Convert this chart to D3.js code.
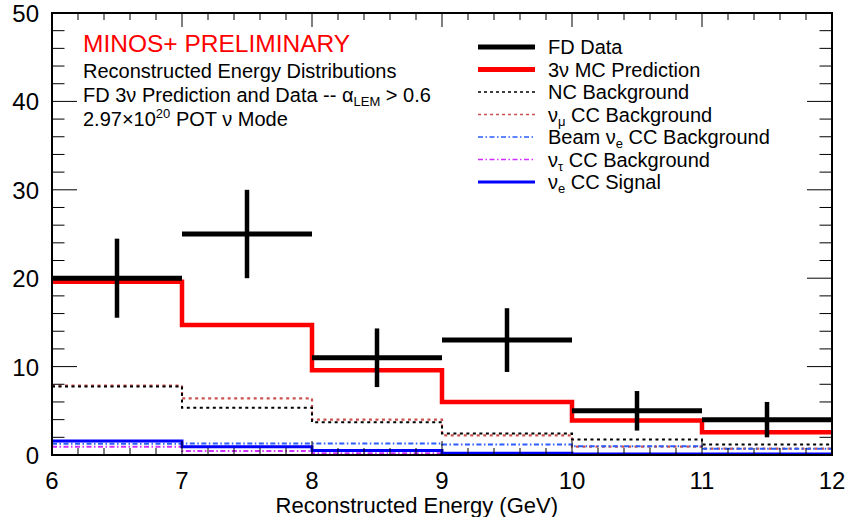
<!DOCTYPE html>
<html>
<head>
<meta charset="utf-8">
<script src="https://cdn.jsdelivr.net/npm/d3@7"></script>
<style>
  body { margin: 0; background: #fff; }
  svg text { font-family: "Liberation Sans", Arial, sans-serif; }
</style>
</head>
<body>
<div id="chart"></div>
<script>
// bin edges (GeV) and per-bin contents
const binEdges = [6, 7, 8, 9, 10, 11, 12];
const fdData = [20, 25, 11, 13, 5, 4];
const mcPrediction = [19.6, 14.7, 9.6, 6.0, 3.9, 2.57];
const ncBackground = [7.75, 5.35, 3.7, 2.42, 1.75, 1.2];
const numuCC = [7.85, 6.4, 4.0, 2.22, 0.95, 0.72];
const beamNueCC = [1.28, 1.3, 1.3, 1.2, 1.0, 0.72];
const nutauCC = [0.92, 0.45, 0.2, 0.1, 0.05, 0.04];
const nueSignal = [1.58, 0.92, 0.5, 0.2, 0.1, 0.12];

const xTicks = [6, 7, 8, 9, 10, 11, 12];
const yTicks = [0, 10, 20, 30, 40, 50];

const width = 846, height = 517;
const margin = {left: 52, right: 14, top: 13, bottom: 62};

const svg = d3.select("#chart").append("svg")
  .attr("width", width)
  .attr("height", height);

const x = d3.scaleLinear().domain([6, 12]).range([margin.left, width - margin.right]);
const y = d3.scaleLinear().domain([0, 50]).range([height - margin.bottom, margin.top]);

// step outline for a histogram
function stepPath(vals) {
  const pts = vals.map((v, i) => [binEdges[i], v]);
  pts.push([binEdges[binEdges.length - 1], vals[vals.length - 1]]);
  return d3.line().x(d => x(d[0])).y(d => y(d[1])).curve(d3.curveStepAfter)(pts);
}

// histograms, background ones first
const hists = [
  {vals: numuCC, color: "#cc5050", w: 2.2, dash: "3,3.5"},
  {vals: ncBackground, color: "#000", w: 2, dash: "3,3.5"},
  {vals: nutauCC, color: "#d030ff", w: 2, dash: "5,2.5,1.5,2.5"},
  {vals: beamNueCC, color: "#2a5cff", w: 2, dash: "5,2.5,1.5,2.5"},
  {vals: nueSignal, color: "#0000ff", w: 3, dash: null},
  {vals: mcPrediction, color: "#ff0000", w: 4.5, dash: null}
];
svg.append("g").attr("class", "hists")
  .selectAll("path")
  .data(hists)
  .join("path")
  .attr("d", d => stepPath(d.vals))
  .attr("fill", "none")
  .attr("stroke", d => d.color)
  .attr("stroke-width", d => d.w)
  .attr("stroke-dasharray", d => d.dash);

// FD data crosses
const dataG = svg.append("g").attr("class", "data");
fdData.forEach((n, i) => {
  const cx = (binEdges[i] + binEdges[i + 1]) / 2;
  const err = Math.sqrt(n);
  dataG.append("line")
    .attr("x1", x(binEdges[i])).attr("x2", x(binEdges[i + 1]))
    .attr("y1", y(n)).attr("y2", y(n))
    .attr("stroke", "#000").attr("stroke-width", 5);
  dataG.append("line")
    .attr("x1", x(cx)).attr("x2", x(cx))
    .attr("y1", y(n - err)).attr("y2", y(n + err))
    .attr("stroke", "#000").attr("stroke-width", 4.5);
});

// frame + ticks
const x0 = x(6), x1 = x(12), y0 = y(0), y1 = y(50);
const ticksG = svg.append("g").attr("stroke", "#000").attr("stroke-width", 1);
d3.range(0, 50.01, 2).forEach(v => {
  const len = v % 10 === 0 ? 25 : 12.5;
  ticksG.append("line").attr("x1", x0).attr("x2", x0 + len).attr("y1", y(v)).attr("y2", y(v));
  ticksG.append("line").attr("x1", x1).attr("x2", x1 - len).attr("y1", y(v)).attr("y2", y(v));
});
d3.range(6, 12.001, 0.2).forEach(v => {
  const major = Math.abs(v - Math.round(v)) < 1e-6;
  const len = major ? 14 : 7;
  ticksG.append("line").attr("x1", x(v)).attr("x2", x(v)).attr("y1", y0).attr("y2", y0 - len);
  ticksG.append("line").attr("x1", x(v)).attr("x2", x(v)).attr("y1", y1).attr("y2", y1 + len);
});
svg.append("rect")
  .attr("x", x0).attr("y", y1)
  .attr("width", x1 - x0).attr("height", y0 - y1)
  .attr("fill", "none").attr("stroke", "#000").attr("stroke-width", 2);

// tick labels
svg.append("g").selectAll("text")
  .data(xTicks).join("text")
  .attr("x", d => x(d)).attr("y", y0 + 34)
  .attr("text-anchor", "middle")
  .attr("font-size", 24)
  .text(d => d);
svg.append("g").selectAll("text")
  .data(yTicks).join("text")
  .attr("x", 39).attr("y", d => y(d) + 9)
  .attr("text-anchor", "end")
  .attr("font-size", 24)
  .text(d => d);

svg.append("text")
  .attr("x", 558).attr("y", 513)
  .attr("text-anchor", "end")
  .attr("font-size", 22)
  .text("Reconstructed Energy (GeV)");

// header text
svg.append("text").attr("x", 83).attr("y", 52)
  .attr("font-size", 24.5).attr("fill", "#ff0000")
  .text("MINOS+ PRELIMINARY");
svg.append("text").attr("x", 83).attr("y", 78)
  .attr("font-size", 20)
  .text("Reconstructed Energy Distributions");
const t3 = svg.append("text").attr("x", 83).attr("y", 102).attr("font-size", 20);
t3.append("tspan").text("FD 3ν Prediction and Data -- α");
t3.append("tspan").attr("dy", 4).attr("font-size", 13).text("LEM");
t3.append("tspan").attr("dy", -4).text(" > 0.6");
const t4 = svg.append("text").attr("x", 83).attr("y", 126).attr("font-size", 20);
t4.append("tspan").text("2.97×10");
t4.append("tspan").attr("dy", -8).attr("font-size", 13).text("20");
t4.append("tspan").attr("dy", 8).text(" POT ν Mode");

// legend
const legend = [
  {label: ["FD Data"], color: "#000", w: 5, dash: null},
  {label: ["3ν MC Prediction"], color: "#ff0000", w: 5, dash: null},
  {label: ["NC Background"], color: "#000", w: 1.5, dash: "3,3"},
  {label: ["ν", "μ", " CC Background"], color: "#cc5050", w: 1.5, dash: "3,3"},
  {label: ["Beam ν", "e", " CC Background"], color: "#2a5cff", w: 1.5, dash: "5,2.5,1.5,2.5"},
  {label: ["ν", "τ", " CC Background"], color: "#d030ff", w: 1.5, dash: "5,2.5,1.5,2.5"},
  {label: ["ν", "e", " CC Signal"], color: "#0000ff", w: 3, dash: null}
];
const legG = svg.append("g").attr("class", "legend");
legend.forEach((d, i) => {
  const cy = 47 + i * 22.5;
  legG.append("line")
    .attr("x1", 478).attr("x2", 535).attr("y1", cy).attr("y2", cy)
    .attr("stroke", d.color).attr("stroke-width", d.w)
    .attr("stroke-dasharray", d.dash);
  const t = legG.append("text").attr("x", 548).attr("y", cy + 7).attr("font-size", 20);
  t.append("tspan").text(d.label[0]);
  if (d.label.length > 1) {
    t.append("tspan").attr("dy", 4).attr("font-size", 13).text(d.label[1]);
    t.append("tspan").attr("dy", -4).text(d.label[2]);
  }
});
</script>
</body>
</html>
